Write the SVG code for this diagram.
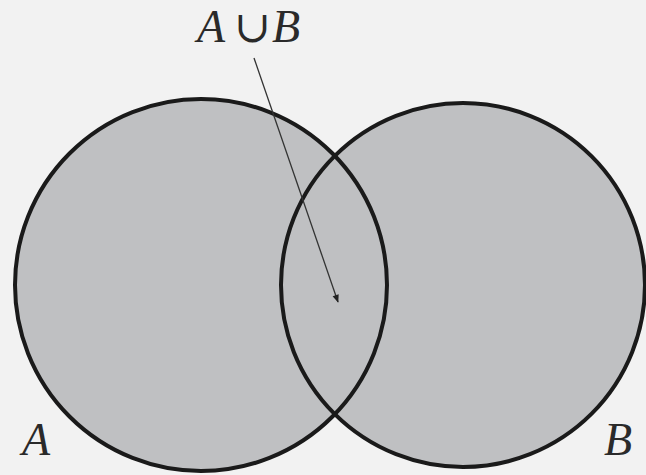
<svg xmlns="http://www.w3.org/2000/svg" width="646" height="475" viewBox="0 0 646 475">
<defs>
<style>
.set{fill:#bfc0c2;stroke:none}
.edge{fill:none;stroke:#1a1a1a;stroke-width:4}
.lbl{font-family:'Liberation Serif','Times New Roman',serif;font-style:italic;fill:#2a2a2a;font-size:46px}
.op{font-family:'DejaVu Serif','Liberation Serif',serif;font-style:normal;font-size:44px}
.ptr{stroke:#333;stroke-width:1.3;fill:none}
</style>
<marker id="ah" viewBox="0 0 10 10" refX="9" refY="5" markerWidth="12" markerHeight="8" markerUnits="userSpaceOnUse" orient="auto">
<path d="M0,1 L10,5 L0,9 z" fill="#222"/>
</marker>
</defs>
<rect width="646" height="475" fill="#f2f2f2"/>
<g id="fills">
<circle class="set" cx="201" cy="285" r="186"/>
<circle class="set" cx="463" cy="285" r="182"/>
</g>
<g id="setA">
<circle class="edge" cx="201" cy="285" r="186"/>
<text class="lbl" x="22" y="455">A</text>
</g>
<g id="setB">
<circle class="edge" cx="463" cy="285" r="182"/>
<text class="lbl" x="604" y="455">B</text>
</g>
<g id="union">
<text class="lbl" x="197" y="42">A<tspan class="op" dx="9">∪</tspan><tspan dx="1">B</tspan></text>
</g>
<g id="connectors">
<line class="ptr" x1="254" y1="58" x2="338" y2="302" marker-end="url(#ah)"/>
</g>
</svg>
